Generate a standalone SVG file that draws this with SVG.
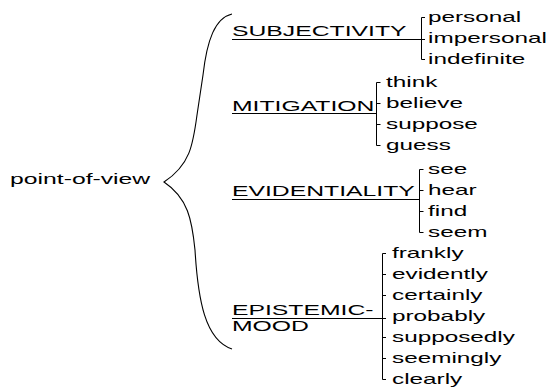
<svg xmlns="http://www.w3.org/2000/svg" width="550" height="392" viewBox="0 0 550 392">
<style>
.t{font-family:"Liberation Sans",Arial,sans-serif;font-size:15px;fill:#000}
.c{fill:none;stroke:#000;stroke-width:1}
.b{fill:none;stroke:#000;stroke-width:1.1}
</style>
<rect width="550" height="392" fill="#fff"/>
<g id="connectors">
<path class="b" d="M232,14 C215,18 207,40 203,75 L197,115 C193,145 190,165 164,182 C188,198 192,220 195,250 C198,300 205,340 232,349"/>
<path class="c" d="M232,39.5H425 M425,17.5H421.5V59.5H425"/>
<path class="c" d="M232,113.5H376.5 M380.5,82.5H376.5V145.5H380.5 M376.5,103.5H380.5 M376.5,124.5H380.5"/>
<path class="c" d="M232,199.5H419.5 M423.5,169.5H419.5V232.5H423.5 M419.5,190.5H423.5 M419.5,211.5H423.5"/>
<path class="c" d="M232,318.5H386 M386,253.5H382.5V379.5H386 M382.5,274.5H386 M382.5,295.5H386 M382.5,337.5H386 M382.5,358.5H386"/>
</g>
<g id="root"><text class="t" transform="translate(10 184) scale(1.65 1)">point-of-view</text></g>
<g id="subjectivity">
<text class="t" transform="translate(232 36) scale(1.65 1)">SUBJECTIVITY</text>
<text class="t" transform="translate(428 22) scale(1.62 1)">personal</text>
<text class="t" transform="translate(428 43) scale(1.62 1)">impersonal</text>
<text class="t" transform="translate(428 64) scale(1.62 1)">indefinite</text>
</g>
<g id="mitigation">
<text class="t" transform="translate(232 111) scale(1.65 1)">MITIGATION</text>
<text class="t" transform="translate(386 87) scale(1.62 1)">think</text>
<text class="t" transform="translate(386 108) scale(1.62 1)">believe</text>
<text class="t" transform="translate(386 129) scale(1.62 1)">suppose</text>
<text class="t" transform="translate(386 150) scale(1.62 1)">guess</text>
</g>
<g id="evidentiality">
<text class="t" transform="translate(232 196) scale(1.65 1)">EVIDENTIALITY</text>
<text class="t" transform="translate(428 174) scale(1.62 1)">see</text>
<text class="t" transform="translate(428 195) scale(1.62 1)">hear</text>
<text class="t" transform="translate(428 216) scale(1.62 1)">find</text>
<text class="t" transform="translate(428 237) scale(1.62 1)">seem</text>
</g>
<g id="epistemic-mood">
<text class="t" transform="translate(232 315) scale(1.65 1)">EPISTEMIC-</text>
<text class="t" transform="translate(232 331) scale(1.65 1)">MOOD</text>
<text class="t" transform="translate(392 258) scale(1.62 1)">frankly</text>
<text class="t" transform="translate(392 279) scale(1.62 1)">evidently</text>
<text class="t" transform="translate(392 300) scale(1.62 1)">certainly</text>
<text class="t" transform="translate(392 321) scale(1.62 1)">probably</text>
<text class="t" transform="translate(392 342) scale(1.62 1)">supposedly</text>
<text class="t" transform="translate(392 363) scale(1.62 1)">seemingly</text>
<text class="t" transform="translate(392 384) scale(1.62 1)">clearly</text>
</g>
</svg>
